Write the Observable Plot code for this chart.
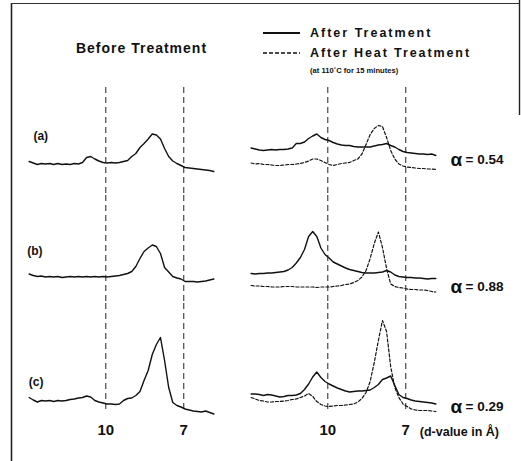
<!DOCTYPE html>
<html><head><meta charset="utf-8">
<script src="https://cdn.jsdelivr.net/npm/d3@7"></script>
<script src="https://cdn.jsdelivr.net/npm/@observablehq/plot@0.6"></script>
<style>
html,body{margin:0;padding:0;background:#fff;}
#wrap{position:relative;width:521px;height:461px;font-family:"Liberation Sans",Arial,Helvetica,sans-serif;}
#chart svg{display:block;}
#ov{position:absolute;left:0;top:0;pointer-events:none;}
g[aria-label="alpha value"] text{letter-spacing:2.4px;}
g[aria-label="d label"] text{letter-spacing:0.9px;}
</style></head><body>
<div id="wrap">
<div id="chart"></div>
<svg id="ov" width="521" height="461" font-family="Liberation Sans, Arial, Helvetica, sans-serif" font-weight="bold" fill="#111">
  <line x1="11.5" y1="3" x2="11.5" y2="461" stroke="#222" stroke-width="1.6"/>
  <line x1="11" y1="3.5" x2="520" y2="3.5" stroke="#333" stroke-width="1.2"/>
  <line x1="519.5" y1="0" x2="519.5" y2="115" stroke="#222" stroke-width="1.4"/>
  <text x="141.5" y="48" text-anchor="middle" dominant-baseline="central" font-size="14" letter-spacing="1">Before Treatment</text>
  <line x1="263" y1="33" x2="300" y2="33" stroke="#111" stroke-width="2"/>
  <line x1="263" y1="53" x2="300" y2="53" stroke="#111" stroke-width="1.3" stroke-dasharray="4,2"/>
  <text x="310" y="33" dominant-baseline="central" font-size="12.5" letter-spacing="2">After Treatment</text>
  <text x="310" y="53" dominant-baseline="central" font-size="12.5" letter-spacing="1.9">After Heat Treatment</text>
  <text x="310" y="70" dominant-baseline="central" font-size="7.6">(at 110˚C  for 15 minutes)</text>
</svg>
</div>
<script>
// ---- data ----
const panels = ["Before Treatment", "After Treatment"];
const samples = ["(a)", "(b)", "(c)"];
const alphaValues = ["0.54", "0.88", "0.29"];
const dTicks = [10, 7];            // d-values in Å marked by dashed lines
const wavelength = 1.5406;         // Cu Kα, Å

// 2θ grid (degrees)
const twoTheta = [5.1,5.3,5.5,5.7,5.9,6.1,6.3,6.5,6.7,6.9,7.1,7.3,7.5,7.7,7.9,8.1,8.3,8.5,8.7,8.9,9.1,9.3,9.5,9.7,9.9,10.1,10.3,10.5,10.7,10.9,11.1,11.3,11.5,11.7,11.9,12.1,12.3,12.5,12.7,12.9,13.1,13.3,13.5,13.7,13.9,14.1];

// intensities (arbitrary units)
const beforeA = [34,32.5,31,32,31.5,32,31,32,31,31.5,31,32,31.5,33,38,39,36.5,34.5,33,32.5,33,32.5,33,34,35,39,42,48,52,56.5,61.5,60.5,56.5,47,39,34.5,32,30,28,27.5,27,26.5,26,25.5,25,24];
const beforeB = [29.5,28,27,27.5,26.5,27,26.5,27,26,26.5,27,26.5,27,26.5,27,26.5,27,26.5,27,26.5,27,27.5,28,29,30,32,37,45,52,55.5,58.5,57,50,36,31.5,27,25.5,24.5,22,22,22,21.5,22,22.5,23.5,24.5];
const beforeC = [14,11.5,9.5,11,10.5,11,10,11,10.5,11,12,12.5,13.5,14,15.5,14.5,11,9.5,8.5,7.5,7.5,7,7.5,11,13,13.5,16,20,31,41,57,67,74,51,24,9,6,4.5,2.5,1.5,0.5,0,-0.5,0.5,-1,-2.5];
const afterA = [47.5,46.5,45.5,45,45.5,46,45.5,46,46,46.5,47.5,52,52,53.5,57,59.5,61.5,58,56,55,53,51.5,50.5,50,50,49,48.5,48.5,48.5,48.5,49.5,50.5,51,52,50,48.5,46,44,43,42.5,42,41.5,41.5,41,41.5,40];
const afterAHeat = [32.5,31.5,32,31,31,30.5,30,30,30.5,31,31,31.5,32,33,34.5,36.5,36.5,35,33,31,30,31,32,32.5,33,35,36.5,41.5,51,61,67,70,69,58,45,36.5,31.5,29.5,28.5,28,27.5,27,27,26.5,26.5,26];
const afterB = [30,29.5,30,30,30.5,30.5,31,31.5,32,33.5,36,40.5,46,54,67,72,67,55.5,49,45.5,41.5,39.5,37.5,35.5,34,33,32,31,30.5,30.5,30.5,31,31.5,33,31.5,28.5,27,26.5,26,26,25.5,25.5,25,24.5,25,25];
const afterBHeat = [18,17.5,17.5,17,17,16.5,16.5,16.5,17,17,17,16.5,16.5,16.5,16.5,16.5,16,16.5,16.5,16.5,17,17.5,18,19,19.5,21,23,26.5,33,45,60,71.5,56,35,19.5,17,16,15.5,14.5,14,14,13.5,13.5,13,12,11.5];
const afterC = [17.5,17.5,17,16,17,16.5,15.5,14.5,15,16,16,16.5,18,22,27.5,34.5,39.5,34,30,27.5,25.5,23.5,22,20.5,19.5,20,20.5,20.5,21,21.5,24,27,32,33.5,35.5,26,17,14,13,11.5,10.5,10,9.5,9,8.5,7.5];
const afterCHeat = [14,12.5,11,10.5,9.5,9.5,10,10,10.5,11,12,12.5,14,15.5,18,15,10,7,5.5,5,5.5,6,6,6.5,7,7.5,9.5,13,19,30,49,71,91,80,45,24,14,7.5,5,2.5,1.5,1,1,1,0.5,0];

// label placements (data units)
const sampleLabelTwoTheta = [5.31, 5.01, 5.08];
const sampleLabelLevel = [59.5, 52, 29.3];
const alphaLevel = [36, 16.5, 5];

// ---- tables ----
const toTwoTheta = d => 2 * Math.asin(wavelength / (2 * d)) * 180 / Math.PI;
const curves = [
  {panel: panels[0], sample: samples[0], dashed: false, values: beforeA},
  {panel: panels[0], sample: samples[1], dashed: false, values: beforeB},
  {panel: panels[0], sample: samples[2], dashed: false, values: beforeC},
  {panel: panels[1], sample: samples[0], dashed: false, values: afterA},
  {panel: panels[1], sample: samples[0], dashed: true, values: afterAHeat},
  {panel: panels[1], sample: samples[1], dashed: false, values: afterB},
  {panel: panels[1], sample: samples[1], dashed: true, values: afterBHeat},
  {panel: panels[1], sample: samples[2], dashed: false, values: afterC},
  {panel: panels[1], sample: samples[2], dashed: true, values: afterCHeat}
];
const rows = [];
curves.forEach((c, k) => c.values.forEach((v, i) => rows.push({
  panel: c.panel, sample: c.sample, dashed: c.dashed, curve: k, twoTheta: twoTheta[i], intensity: v
})));
const solidRows = rows.filter(r => !r.dashed);
const dashedRows = rows.filter(r => r.dashed);

const ruleRows = [];
panels.forEach(p => samples.forEach(s => dTicks.forEach(d => ruleRows.push({panel: p, sample: s, twoTheta: toTwoTheta(d)}))));
const tickRows = [];
panels.forEach(p => dTicks.forEach(d => tickRows.push({panel: p, sample: samples[2], twoTheta: toTwoTheta(d), label: String(d)})));
const sampleRows = samples.map((s, i) => ({panel: panels[0], sample: s, twoTheta: sampleLabelTwoTheta[i], level: sampleLabelLevel[i]}));
const alphaRows = samples.map((s, i) => ({panel: panels[1], sample: s, level: alphaLevel[i], value: "= " + alphaValues[i]}));

const font = "Liberation Sans, Arial, Helvetica, sans-serif";
const chart = Plot.plot({
  width: 521, height: 461,
  marginLeft: 28, marginRight: 86, marginTop: 87, marginBottom: 50,
  fx: {domain: panels, paddingInner: 1/6, paddingOuter: 0, round: false, axis: null},
  fy: {domain: samples, paddingInner: 0, paddingOuter: 0, round: false, axis: null},
  x: {domain: [5.0686, 14.084], axis: null},
  y: {domain: [0, 108], axis: null},
  style: {background: "transparent", fontFamily: font, color: "#111"},
  marks: [
    Plot.ruleX(ruleRows, {x: "twoTheta", fx: "panel", fy: "sample", stroke: "#222", strokeWidth: 1, strokeDasharray: "6,4"}),
    Plot.line(solidRows, {x: "twoTheta", y: "intensity", z: "curve", fx: "panel", fy: "sample", stroke: "#111", strokeWidth: 1.4, strokeLinejoin: "round"}),
    Plot.line(dashedRows, {x: "twoTheta", y: "intensity", z: "curve", fx: "panel", fy: "sample", stroke: "#111", strokeWidth: 1.2, strokeDasharray: "3,2"}),
    Plot.text(tickRows, {x: "twoTheta", fx: "panel", fy: "sample", text: "label", frameAnchor: "bottom", dy: 23, fontSize: 15, fontWeight: "bold", fill: "#111"}),
    Plot.text([tickRows[3]], {x: "twoTheta", fx: "panel", fy: "sample", text: () => "(d-value in Å)", frameAnchor: "bottom", dy: 24, dx: 14, textAnchor: "start", fontSize: 12.5, fontWeight: "bold", fill: "#111", ariaLabel: "d label"}),
    Plot.text(sampleRows, {x: "twoTheta", y: "level", fx: "panel", fy: "sample", text: "sample", textAnchor: "start", fontSize: 12, fontWeight: "bold", fill: "#111"}),
    Plot.text(alphaRows, {y: "level", fx: "panel", fy: "sample", text: () => "α", frameAnchor: "right", dx: 15, textAnchor: "start", fontSize: 19, fontWeight: "bold", fill: "#111"}),
    Plot.text(alphaRows, {y: "level", fx: "panel", fy: "sample", text: "value", frameAnchor: "right", dx: 30, textAnchor: "start", fontSize: 13.5, fontWeight: "bold", fill: "#111", ariaLabel: "alpha value"})
  ]
});
document.getElementById("chart").appendChild(chart);
</script>
</body></html>
